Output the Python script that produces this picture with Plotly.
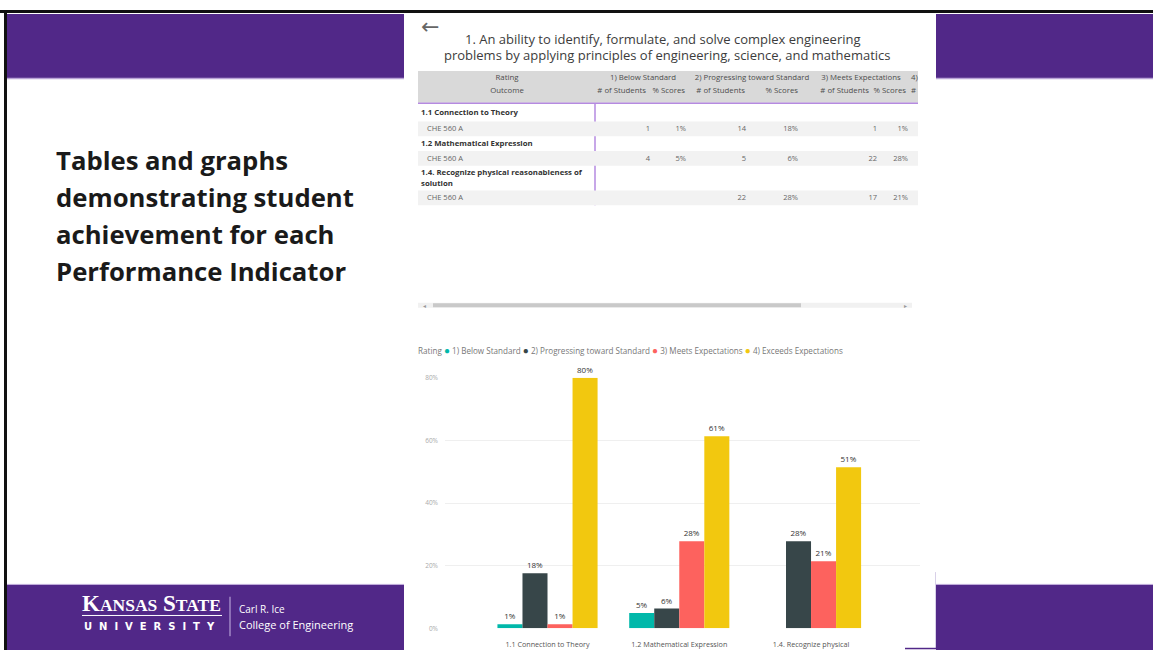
import plotly.graph_objects as go

W, H = 1153, 654

# ---------------- data ----------------
categories = ["1.1 Connection to Theory", "1.2 Mathematical Expression", "1.4. Recognize physical"]
outcomes = ["1.1 Connection to Theory", "1.2 Mathematical Expression",
            "1.4. Recognize physical reasonableness of<br>solution"]
course = "CHE 560 A"
ratings = ["1) Below Standard", "2) Progressing toward Standard",
           "3) Meets Expectations", "4) Exceeds Expectations"]

below_pct = [1.3, 4.9, None]
progressing_pct = [17.6, 6.3, 27.8]
meets_pct = [1.3, 27.8, 21.4]
exceeds_pct = [80.0, 61.3, 51.4]

below_students = [1, 4, None]
progressing_students = [14, 5, 22]
meets_students = [1, 22, 17]
below_scores = ["1%", "5%", ""]
progressing_scores = ["18%", "6%", "28%"]
meets_scores = ["1%", "28%", "21%"]

sub_headers = ["# of Students", "% Scores"]
y_ticks = [0, 20, 40, 60, 80]

colors = ["#01B8AA", "#374649", "#FD625E", "#F2C80F"]

# ---------------- helpers ----------------
def fx(x):
    return x / W

def fy(y):
    return 1 - y / H

PURPLE = "#512888"
FONT = "Open Sans"

fig = go.Figure()

# ---------------- bar chart ----------------
series = [below_pct, progressing_pct, meets_pct, exceeds_pct]
for name, vals, col in zip(ratings, series, colors):
    fig.add_trace(go.Bar(
        x=categories, y=vals, name=name, marker=dict(color=col, line=dict(width=0)),
        texttemplate="%{y:.0f}%", textposition="outside", cliponaxis=False,
        textfont=dict(size=8, color="#333333", family=FONT),
        showlegend=False, xaxis="x", yaxis="y",
    ))

# ---------------- table (pixel overlay axis) ----------------
val_right = [650, 686, 746, 798, 877, 908]
hdr_right = [646, 685, 745, 798, 869, 906]
grp_center = [643, 752, 861]
outcome_left = 421
course_left = 427
row_group_y = [110, 141, 176]
row_course_y = [126, 156, 196]
TSIZE = 7.8

hx, hy, ht, hpos = [], [], [], []
hx.append(507); hy.append(74); ht.append("Rating"); hpos.append("middle center")
hx.append(507); hy.append(87.5); ht.append("Outcome"); hpos.append("middle center")
for i, r in enumerate(ratings[:3]):
    hx.append(grp_center[i]); hy.append(74); ht.append(r); hpos.append("middle center")
for j in range(6):
    hx.append(hdr_right[j]); hy.append(87.5); ht.append(sub_headers[j % 2]); hpos.append("middle left")
hx.append(911); hy.append(74); ht.append(ratings[3][:2]); hpos.append("middle right")
hx.append(911); hy.append(87.5); ht.append(sub_headers[0][:1]); hpos.append("middle right")
fig.add_trace(go.Scatter(x=hx, y=hy, text=ht, mode="text", textposition=hpos,
                         textfont=dict(size=TSIZE, color="#4d4d4d", family=FONT),
                         showlegend=False, hoverinfo="skip", xaxis="x2", yaxis="y2"))

fig.add_trace(go.Scatter(x=[outcome_left] * 3, y=row_group_y,
                         text=["<b>%s</b>" % o for o in outcomes], mode="text",
                         textposition="middle right",
                         textfont=dict(size=TSIZE, color="#333333", family=FONT),
                         showlegend=False, hoverinfo="skip", xaxis="x2", yaxis="y2"))
fig.add_trace(go.Scatter(x=[course_left] * 3, y=row_course_y, text=[course] * 3, mode="text",
                         textposition="middle right",
                         textfont=dict(size=TSIZE - 0.3, color="#666666", family=FONT),
                         showlegend=False, hoverinfo="skip", xaxis="x2", yaxis="y2"))
cols = [below_students, below_scores, progressing_students, progressing_scores,
        meets_students, meets_scores]
vx, vy, vt = [], [], []
for j, colvals in enumerate(cols):
    for i, v in enumerate(colvals):
        if v is None or v == "":
            continue
        vx.append(val_right[j]); vy.append(row_course_y[i]); vt.append(str(v))
fig.add_trace(go.Scatter(x=vx, y=vy, text=vt, mode="text", textposition="middle left",
                         textfont=dict(size=TSIZE - 0.3, color="#666666", family=FONT),
                         showlegend=False, hoverinfo="skip", xaxis="x2", yaxis="y2"))

# ---------------- shapes ----------------
shapes = []
def rect(x0, y0, x1, y1, color, layer="below", line=None):
    shapes.append(dict(type="rect", xref="paper", yref="paper",
                       x0=fx(x0), x1=fx(x1), y0=fy(y1), y1=fy(y0),
                       fillcolor=color, line=line or dict(width=0), layer=layer))

def hline(x0, x1, y, color, width=1, layer="below"):
    shapes.append(dict(type="line", xref="paper", yref="paper", x0=fx(x0), x1=fx(x1),
                       y0=fy(y), y1=fy(y), line=dict(color=color, width=width), layer=layer))

def vline(x, y0, y1, color, width=1, layer="below"):
    shapes.append(dict(type="line", xref="paper", yref="paper", x0=fx(x), x1=fx(x),
                       y0=fy(y0), y1=fy(y1), line=dict(color=color, width=width), layer=layer))

# slide bands
rect(7, 9, 404, 74, PURPLE)
rect(936, 9, W, 74, PURPLE)
hline(7, 404, 74.5, "#b9a3d6", 1.5)
hline(936, W, 74.5, "#b9a3d6", 1.5)
rect(7, 588, 404, H, PURPLE)
rect(936, 588, W, H, PURPLE)
hline(7, 404, 587.5, "#b9a3d6", 1)
hline(936, W, 587.5, "#b9a3d6", 1)
# frame
hline(0, W, 6.5, "#111111", 3)
vline(5.5, 6, H, "#111111", 3)
# panel edge
vline(935.5, 575, 652, "#d8d0e8", 1)
hline(905, 936, 652.5, PURPLE, 1.5)

# table header band
rect(418, 67, 918, 99, "#d9d9d9")
hline(418, 918, 99.5, "#b58ae0", 1.5)
vline(595, 100, 203, "#b58ae0", 1.5)
for yc in row_course_y:
    rect(418, yc - 8, 918, yc + 7, "#f2f2f2")

# scrollbar
rect(418, 302, 912, 307, "#f1f1f1")
rect(433, 302.5, 801, 306.5, "#c9c9c9")

# ---------------- annotations ----------------
ann = []
def text(x, y, s, size, color, xanchor="left", family=FONT, bold=False):
    ann.append(dict(x=fx(x), y=fy(y), xref="paper", yref="paper", text=("<b>%s</b>" % s) if bold else s,
                    showarrow=False, xanchor=xanchor, yanchor="middle",
                    font=dict(size=size, color=color, family=family)))

slide_lines = ["Tables and graphs", "demonstrating student", "achievement for each", "Performance Indicator"]
for i, s in enumerate(slide_lines):
    text(54, 158 + i * 37.5, s, 25.7, "#1a1a1a", family="Open Sans", bold=True)

# logo
text(80, 607, "K<span style='font-size:17.5px'>ANSAS</span> S<span style='font-size:17.5px'>TATE</span>",
     23, "white", family="Liberation Serif", bold=True)
hline(82, 222, 619, "white", 1, layer="above")
text(82, 630, "\u00a0 ".join("UNIVERSITY"), 10, "white", family="DejaVu Sans", bold=True)
vline(230, 600, 640, "#c9b6e4", 1, layer="above")
text(237, 612, "Carl R. Ice", 10, "white", family="Open Sans")
text(237, 628, "College of Engineering", 11, "white", family="Open Sans")

# title & arrow
text(430, 22, "←", 22, "#666666", xanchor="center", family="DejaVu Sans")
text(663, 34.5, "1. An ability to identify, formulate, and solve complex engineering", 13, "#3c3c3c",
     xanchor="center")
text(667, 51, "problems by applying principles of engineering, science, and mathematics", 13, "#3c3c3c",
     xanchor="center")

# scroll arrows
text(424, 304.5, "◂", 6, "#999999", xanchor="center", family="DejaVu Sans")
text(905, 304.5, "▸", 6, "#999999", xanchor="center", family="DejaVu Sans")

# legend (Power BI style)
leg = "Rating " + " ".join(
    "<span style='color:%s;font-size:10px'>●</span> %s" % (c, r) for c, r in zip(colors, ratings))
text(416, 350, leg, 8.1, "#777777")

fig.update_layout(
    width=W, height=H, margin=dict(l=0, r=0, t=0, b=0),
    paper_bgcolor="white", plot_bgcolor="rgba(0,0,0,0)",
    barmode="group", bargap=0.24, bargroupgap=0,
    shapes=shapes, annotations=ann, showlegend=False,
    xaxis=dict(domain=[fx(445), fx(920)], range=[-0.778, 2.827], showgrid=False,
               showline=False, zeroline=False, ticks="", anchor="y", ticklabelstandoff=10,
               tickfont=dict(size=7.2, color="#555555", family=FONT)),
    yaxis=dict(domain=[fy(632), fy(378)], range=[0, 80], tickvals=y_ticks,
               ticktext=["%d%%" % t for t in y_ticks], showgrid=True, gridcolor="#efefef",
               gridwidth=1, zeroline=False, showline=False, ticks="", anchor="x",
               tickfont=dict(size=6.5, color="#aaaaaa", family=FONT), ticklabelstandoff=6),
    xaxis2=dict(domain=[0, 1], range=[0, W], visible=False, anchor="y2", fixedrange=True),
    yaxis2=dict(domain=[0, 1], range=[H, 0], visible=False, anchor="x2", fixedrange=True),
)

fig.write_html("out.html")
